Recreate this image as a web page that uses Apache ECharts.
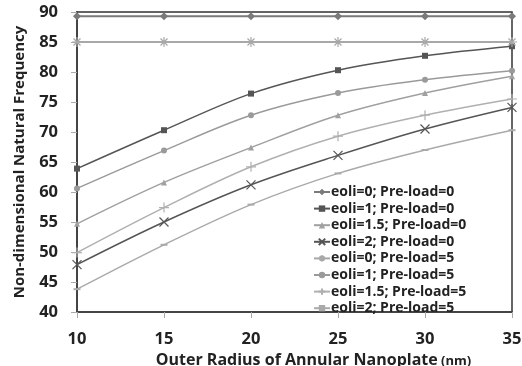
<!DOCTYPE html>
<html><head><meta charset="utf-8">
<script src="https://cdn.jsdelivr.net/npm/echarts@6/dist/echarts.min.js"></script>
<style>html,body{margin:0;padding:0;background:#fff}#c{width:522px;height:366px}</style>
</head><body><div id="c"></div>
<script>
const xValues = [10, 15, 20, 25, 30, 35];
const seriesNames = ['eoli=0; Pre-load=0','eoli=1; Pre-load=0','eoli=1.5; Pre-load=0','eoli=2; Pre-load=0','eoli=0; Pre-load=5','eoli=1; Pre-load=5','eoli=1.5; Pre-load=5','eoli=2; Pre-load=5'];
const e0p0 = [89.3, 89.3, 89.3, 89.3, 89.3, 89.3];
const e1p0 = [63.9, 70.3, 76.4, 80.3, 82.7, 84.3];
const e15p0 = [54.7, 61.6, 67.4, 72.8, 76.5, 79.3];
const e2p0 = [47.9, 55.0, 61.2, 66.1, 70.5, 74.1];
const e0p5 = [85, 85, 85, 85, 85, 85];
const e1p5 = [60.6, 66.9, 72.8, 76.5, 78.7, 80.2];
const e15p5 = [49.9, 57.4, 64.2, 69.3, 72.8, 75.5];
const e2p5 = [43.8, 51.2, 57.9, 63.1, 67.0, 70.3];
const yTicks = {min: 40, max: 90, interval: 5};
const xTicks = {min: 10, max: 35, interval: 5};

const allData = [e0p0, e1p0, e15p0, e2p0, e0p5, e1p5, e15p5, e2p5];
const styles = [
  {c:'#7a7a7a', sym:'diamond', size:8, stroke:false, w:2},
  {c:'#555555', sym:'rect', size:6, stroke:false, w:1.5},
  {c:'#a0a0a0', sym:'triangle', size:6, stroke:false, w:1.5},
  {c:'#555555', sym:'path://M0,0L10,10M10,0L0,10', size:9, stroke:true, w:1.5},
  {c:'#a8a8a8', sym:'path://M0,5L10,5M5,0L5,10M1.5,1.5L8.5,8.5M8.5,1.5L1.5,8.5', size:10, stroke:true, w:2},
  {c:'#9a9a9a', sym:'circle', size:6, stroke:false, w:1.5},
  {c:'#b0b0b0', sym:'path://M0,5L10,5M5,0L5,10', size:10, stroke:true, w:1.5},
  {c:'#aaaaaa', sym:'rect', size:[7,2], stroke:false, w:1.5}
];

const series = allData.map((d, i) => {
  const s = styles[i];
  return {
    name: seriesNames[i],
    type: 'line',
    smooth: 0.35,
    data: xValues.map((x, j) => [x, d[j]]),
    symbol: s.sym,
    symbolSize: s.size,
    showSymbol: true,
    lineStyle: {color: s.c, width: s.w},
    itemStyle: s.stroke ? {color: 'rgba(0,0,0,0)', borderColor: s.c, borderWidth: 1.2} : {color: s.c, borderWidth: 0},
    emphasis: {disabled: true},
    z: 3
  };
});

const chart = echarts.init(document.getElementById('c'), null, {renderer: 'canvas'});
chart.setOption({
  animation: false,
  backgroundColor: '#fff',
  grid: {left: 77, right: 10, top: 12, bottom: 54, containLabel: false, outerBoundsMode: 'none', show: true, borderColor: '#333', borderWidth: 1.5, backgroundColor: 'transparent'},
  xAxis: {
    type: 'value', min: xTicks.min, max: xTicks.max, interval: xTicks.interval,
    axisLine: {lineStyle: {color: '#444', width: 2}},
    axisTick: {show: true, length: 6, lineStyle: {color: '#aaa'}},
    splitLine: {show: false},
    axisLabel: {margin: 19, fontFamily: 'Open Sans', fontWeight: 'bold', fontSize: 16.5, color: '#222'},
    name: '{a|Outer Radius of Annular Nanoplate}{b| (nm)}',
    nameLocation: 'middle', nameGap: 21,
    nameTextStyle: {padding: [0, 0, 0, 38], rich: {
      a: {fontFamily: 'Open Sans', fontWeight: 'bold', fontSize: 16, color: '#222'},
      b: {fontFamily: 'Open Sans', fontWeight: 'bold', fontSize: 13, color: '#222'}
    }}
  },
  yAxis: {
    type: 'value', min: yTicks.min, max: yTicks.max, interval: yTicks.interval,
    axisLine: {show: true, lineStyle: {color: '#444', width: 2}},
    axisTick: {show: true, length: 6, lineStyle: {color: '#aaa'}},
    splitLine: {show: false},
    axisLabel: {margin: 19, fontFamily: 'Open Sans', fontWeight: 'bold', fontSize: 16.5, color: '#222'},
    name: 'Non-dimensional Natural Frequency',
    nameLocation: 'middle', nameGap: 50,
    nameTextStyle: {fontFamily: 'Open Sans', fontWeight: 'bold', fontSize: 15, color: '#222'}
  },
  legend: {
    orient: 'vertical', left: 313, top: 185,
    itemWidth: 16, itemHeight: 8, itemGap: 2.6,
    backgroundColor: 'transparent', borderWidth: 0, padding: [0, 0, 0, 0],
    textStyle: {fontFamily: 'Open Sans', fontWeight: 'bold', fontSize: 14, lineHeight: 14, color: '#222', padding: [0,0,0,-4]},
    data: seriesNames
  },
  series: series
});
</script></body></html>
